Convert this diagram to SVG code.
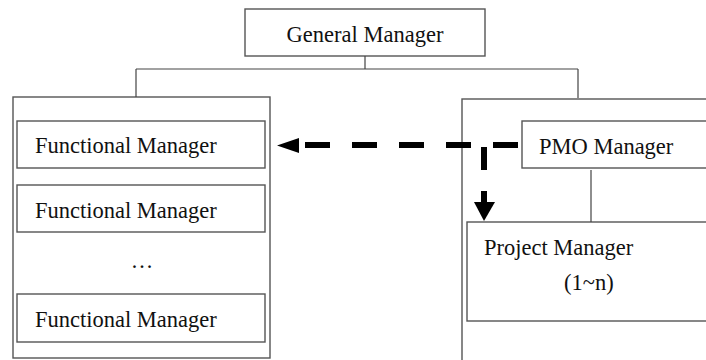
<svg xmlns="http://www.w3.org/2000/svg" width="706" height="360" viewBox="0 0 706 360">
<style>
.box{fill:#fff;stroke:#555;stroke-width:1.4}
.ln{fill:none;stroke:#444;stroke-width:1.2}
.t{font-family:"Liberation Serif","Times New Roman",serif;font-size:22.5px;fill:#111}
.dash{fill:none;stroke:#000;stroke-width:6;stroke-dasharray:25 22}
</style>
<rect width="706" height="360" fill="#fff"/>
<g id="left-container"><rect class="box" x="13" y="97" width="257" height="261"/></g>
<g id="right-container"><rect class="box" x="462" y="99" width="400" height="300"/></g>
<g id="general-manager"><rect class="box" x="245" y="9" width="240" height="47"/><text class="t" x="365" y="42" text-anchor="middle">General Manager</text></g>
<g id="functional-manager-1"><rect class="box" x="17" y="121" width="248" height="47"/><text class="t" x="35" y="153">Functional Manager</text></g>
<g id="functional-manager-2"><rect class="box" x="17" y="185" width="248" height="47"/><text class="t" x="35" y="218">Functional Manager</text></g>
<g id="ellipsis"><text class="t" x="142" y="268" text-anchor="middle">…</text></g>
<g id="functional-manager-3"><rect class="box" x="17" y="294" width="248" height="48"/><text class="t" x="35" y="327">Functional Manager</text></g>
<g id="pmo-manager"><rect class="box" x="522" y="121" width="400" height="47"/><text class="t" x="539" y="154">PMO Manager</text></g>
<g id="project-manager"><rect class="box" x="467" y="222" width="400" height="99"/><text class="t" x="484" y="255">Project Manager</text><text class="t" x="564" y="290">(1~n)</text></g>
<g id="connectors">
<path class="ln" d="M365 56V69M136 69H578M136 69V97M578 69V98M591 170V222"/>
<path class="dash" d="M518 145H300"/>
<polygon points="277,145.5 299,138 299,153" fill="#000"/>
<path class="dash" d="M484 147V203" style="stroke-dasharray:23 21"/>
<polygon points="484,221 474,202 495,202" fill="#000"/>
</g>
</svg>
